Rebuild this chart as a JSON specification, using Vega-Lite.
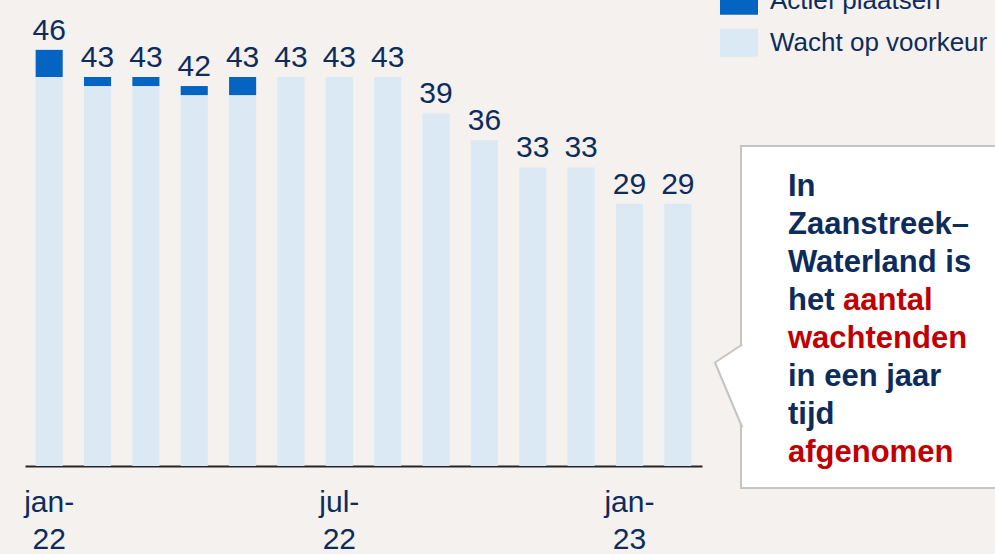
{
  "$schema": "https://vega.github.io/schema/vega-lite/v6.json",
  "background": "#f4f1ee",
  "padding": {"left": 23, "top": -19, "right": 0, "bottom": 0},
  "bounds": "flush",
  "spacing": 39,
  "config": {"view": {"stroke": null}, "font": "Liberation Sans"},
  "datasets": {
    "wachtlijst": [
      {"maand": "jan-22", "status": "Wacht op voorkeur", "aantal": 43},
      {"maand": "jan-22", "status": "Actief plaatsen", "aantal": 3},
      {"maand": "feb-22", "status": "Wacht op voorkeur", "aantal": 42},
      {"maand": "feb-22", "status": "Actief plaatsen", "aantal": 1},
      {"maand": "mrt-22", "status": "Wacht op voorkeur", "aantal": 42},
      {"maand": "mrt-22", "status": "Actief plaatsen", "aantal": 1},
      {"maand": "apr-22", "status": "Wacht op voorkeur", "aantal": 41},
      {"maand": "apr-22", "status": "Actief plaatsen", "aantal": 1},
      {"maand": "mei-22", "status": "Wacht op voorkeur", "aantal": 41},
      {"maand": "mei-22", "status": "Actief plaatsen", "aantal": 2},
      {"maand": "jun-22", "status": "Wacht op voorkeur", "aantal": 43},
      {"maand": "jul-22", "status": "Wacht op voorkeur", "aantal": 43},
      {"maand": "aug-22", "status": "Wacht op voorkeur", "aantal": 43},
      {"maand": "sep-22", "status": "Wacht op voorkeur", "aantal": 39},
      {"maand": "okt-22", "status": "Wacht op voorkeur", "aantal": 36},
      {"maand": "nov-22", "status": "Wacht op voorkeur", "aantal": 33},
      {"maand": "dec-22", "status": "Wacht op voorkeur", "aantal": 33},
      {"maand": "jan-23", "status": "Wacht op voorkeur", "aantal": 29},
      {"maand": "feb-23", "status": "Wacht op voorkeur", "aantal": 29}
    ],
    "toelichting": [
      {"regel": 1, "tekst": "In", "nadruk": false},
      {"regel": 2, "tekst": "Zaanstreek–", "nadruk": false},
      {"regel": 3, "tekst": "Waterland is", "nadruk": false},
      {"regel": 4, "tekst": "het", "nadruk": false},
      {"regel": 4, "tekst": "aantal", "nadruk": true},
      {"regel": 5, "tekst": "wachtenden", "nadruk": true},
      {"regel": 6, "tekst": "in een jaar", "nadruk": false},
      {"regel": 7, "tekst": "tijd", "nadruk": false},
      {"regel": 8, "tekst": "afgenomen", "nadruk": true}
    ]
  },
  "hconcat": [
    {
      "width": 677,
      "height": 465,
      "data": {"name": "wachtlijst"},
      "layer": [
        {
          "mark": {"type": "bar"},
          "encoding": {
            "x": {
              "field": "maand", "type": "ordinal",
              "sort": ["jan-22","feb-22","mrt-22","apr-22","mei-22","jun-22","jul-22","aug-22","sep-22","okt-22","nov-22","dec-22","jan-23","feb-23"],
              "scale": {"paddingInner": 0.44, "paddingOuter": 0.22},
              "axis": {
                "title": null, "ticks": false, "grid": false, "labelAngle": 0,
                "domainColor": "#262626", "domainWidth": 2,
                "labelFontSize": 30, "labelColor": "#0d2c5c", "labelFont": "Liberation Sans",
                "labelPadding": 21, "labelLineHeight": 37, "labelOverlap": false,
                "labelExpr": "(datum.value == 'jan-22' || datum.value == 'jul-22' || datum.value == 'jan-23') ? [slice(datum.value, 0, 4), slice(datum.value, 4)] : ''"
              }
            },
            "y": {
              "field": "aantal", "type": "quantitative", "stack": "zero",
              "scale": {"domain": [0, 51.4], "nice": false}, "axis": null
            },
            "color": {
              "field": "status", "type": "nominal",
              "scale": {"domain": ["Actief plaatsen", "Wacht op voorkeur"], "range": ["#0563c1", "#dae9f3"]},
              "legend": {
                "title": null, "orient": "none", "legendX": 695, "legendY": -19.3,
                "padding": 0, "symbolType": "M-1,-0.74H1V0.74H-1Z", "symbolSize": 1444,
                "symbolStrokeWidth": 0, "labelFontSize": 26, "labelColor": "#0d2c5c",
                "labelFont": "Liberation Sans", "labelOffset": 12, "rowPadding": 8, "labelLimit": 0
              }
            },
            "order": {"field": "status", "sort": "descending"}
          }
        },
        {
          "transform": [{"aggregate": [{"op": "sum", "field": "aantal", "as": "totaal"}], "groupby": ["maand"]}],
          "mark": {"type": "text", "baseline": "alphabetic", "dy": -10, "fontSize": 30, "color": "#0d2c5c", "font": "Liberation Sans"},
          "encoding": {
            "x": {"field": "maand", "type": "ordinal", "sort": ["jan-22","feb-22","mrt-22","apr-22","mei-22","jun-22","jul-22","aug-22","sep-22","okt-22","nov-22","dec-22","jan-23","feb-23"]},
            "y": {"field": "totaal", "type": "quantitative"},
            "text": {"field": "totaal", "type": "quantitative"}
          }
        }
      ]
    },
    {
      "bounds": "flush",
      "spacing": 45,
      "vconcat": [
        {
          "width": 260, "height": 100,
          "data": {"values": []},
          "mark": {"type": "point"},
          "encoding": {}
        },
        {
          "width": 260, "height": 342,
          "view": {"fill": "#ffffff", "stroke": "#c4c4c4", "strokeWidth": 2},
          "data": {"name": "toelichting"},
          "layer": [
            {
              "data": {"values": [{"wijzer": 1}]},
              "mark": {"type": "point", "shape": "M0.03,-1L-0.627,-0.566L0.03,1", "size": 6889, "fill": "#ffffff", "stroke": "#c4c4c4", "strokeWidth": 2, "opacity": 1, "fillOpacity": 1},
              "encoding": {"x": {"value": 0}, "y": {"value": 240}}
            },
            {
              "transform": [{"filter": "!datum.nadruk"}],
              "mark": {"type": "text", "align": "left", "baseline": "alphabetic", "dy": 12, "fontSize": 31, "fontWeight": "bold", "color": "#0d2c5c", "font": "Liberation Sans"},
              "encoding": {
                "x": {"value": 47},
                "y": {"field": "regel", "type": "ordinal", "scale": {"type": "point", "domain": [1,2,3,4,5,6,7,8], "padding": 1}, "axis": null},
                "text": {"field": "tekst"}
              }
            },
            {
              "transform": [{"filter": "datum.nadruk && datum.regel != 4"}],
              "mark": {"type": "text", "align": "left", "baseline": "alphabetic", "dy": 12, "fontSize": 31, "fontWeight": "bold", "color": "#c00000", "font": "Liberation Sans"},
              "encoding": {
                "x": {"value": 47},
                "y": {"field": "regel", "type": "ordinal", "scale": {"type": "point", "domain": [1,2,3,4,5,6,7,8], "padding": 1}, "axis": null},
                "text": {"field": "tekst"}
              }
            },
            {
              "transform": [{"filter": "datum.nadruk && datum.regel == 4"}],
              "mark": {"type": "text", "align": "left", "baseline": "alphabetic", "dy": 12, "dx": 55, "fontSize": 31, "fontWeight": "bold", "color": "#c00000", "font": "Liberation Sans"},
              "encoding": {
                "x": {"value": 47},
                "y": {"field": "regel", "type": "ordinal", "scale": {"type": "point", "domain": [1,2,3,4,5,6,7,8], "padding": 1}, "axis": null},
                "text": {"field": "tekst"}
              }
            }
          ]
        }
      ]
    }
  ]
}
